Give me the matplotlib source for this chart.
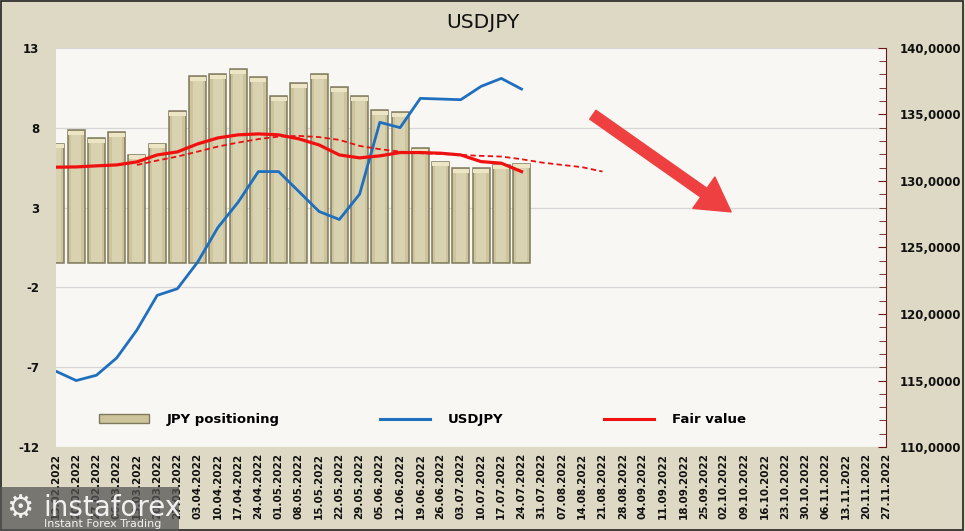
import matplotlib.pyplot as plt
from matplotlib.patches import FancyArrowPatch, Rectangle
from matplotlib.lines import Line2D
from matplotlib.ticker import FixedLocator, MultipleLocator, FuncFormatter
import numpy as np

plt.rcParams['axes.unicode_minus'] = False

# weekly date labels on the category axis
dates = ['13.02.2022', '20.02.2022', '27.02.2022', '06.03.2022', '13.03.2022', '20.03.2022',
         '27.03.2022', '03.04.2022', '10.04.2022', '17.04.2022', '24.04.2022', '01.05.2022',
         '08.05.2022', '15.05.2022', '22.05.2022', '29.05.2022', '05.06.2022', '12.06.2022',
         '19.06.2022', '26.06.2022', '03.07.2022', '10.07.2022', '17.07.2022', '24.07.2022',
         '31.07.2022', '07.08.2022', '14.08.2022', '21.08.2022', '28.08.2022', '04.09.2022',
         '11.09.2022', '18.09.2022', '25.09.2022', '02.10.2022', '09.10.2022', '16.10.2022',
         '23.10.2022', '30.10.2022', '06.11.2022', '13.11.2022', '20.11.2022', '27.11.2022']

# JPY net positioning (left axis)
positioning = [7.0, 7.83, 7.33, 7.71, 6.31, 7.0, 9.04, 11.25, 11.35, 11.67, 11.17, 9.96,
               10.79, 11.35, 10.52, 9.96, 9.12, 8.96, 6.71, 5.87, 5.48, 5.48, 5.69, 5.75]
bar_base = -0.5

# USDJPY (right axis)
usdjpy = [115.7, 115.0, 115.4, 116.7, 118.8, 121.4, 121.9, 123.9, 126.5, 128.4, 130.7, 130.7,
          129.2, 127.7, 127.1, 129.0, 134.4, 134.0, 136.2, 136.15, 136.1, 137.1, 137.7, 136.9]

# fair value (right axis)
fair_value = [131.03, 131.05, 131.13, 131.2, 131.43, 131.95, 132.18, 132.78, 133.23, 133.46,
              133.53, 133.46, 133.16, 132.7, 131.95, 131.73, 131.88, 132.13, 132.13, 132.08,
              131.95, 131.45, 131.33, 130.7]

# fair value trend (dashed), starts at week index 4
trend_start = 4
fair_trend = [131.2, 131.53, 131.83, 132.2, 132.58, 132.88, 133.14, 133.33, 133.38, 133.29,
              133.08, 132.63, 132.38, 132.2, 132.08, 132.03, 131.95, 131.88, 131.83, 131.63,
              131.38, 131.2, 131.03, 130.7]

bg = '#ddd9c4'
plot_bg = '#f8f7f3'

fig = plt.figure(figsize=(9.65, 5.31), dpi=100, facecolor=bg)
ax = fig.add_axes([0.058, 0.158, 0.860, 0.752])
ax.set_facecolor(plot_bg)
ax2 = ax.twinx()

x = np.arange(len(positioning))

# bars with a simple bevel look
ax.bar(x, np.array(positioning) - bar_base, bottom=bar_base, width=0.84,
       color='#cdc49c', edgecolor='#7f795c', linewidth=1.1, zorder=2)
ax.bar(x, np.array(positioning) - bar_base - 0.25, bottom=bar_base + 0.1, width=0.5,
       color='#d9d2b0', linewidth=0, zorder=2)
ax.bar(x, [0.25] * len(x), bottom=np.array(positioning) - 0.3, width=0.8,
       color='#ece6c4', linewidth=0, zorder=2)

ax.set_xlim(0, len(dates) - 1)
ax.set_ylim(-12, 13)
ax.yaxis.set_major_locator(FixedLocator([-12, -7, -2, 3, 8, 13]))
ax.grid(axis='y', color='#d6d6d6', linewidth=0.9, zorder=0)
ax.set_axisbelow(True)
ax.set_xticks(np.arange(len(dates)))
ax.set_xticklabels(dates, rotation=90, fontsize=7.5, fontweight='bold', color='#111111')
ax.tick_params(axis='x', length=0, pad=4)
ax.tick_params(axis='y', length=0, pad=12, labelsize=8.5, labelcolor='#111111')
for lab in ax.get_yticklabels():
    lab.set_fontweight('bold')
for s in ax.spines.values():
    s.set_visible(False)

# lines on the secondary axis
ax2.plot(x, usdjpy, color='#1f6fbf', linewidth=2.0, zorder=4)
ax2.plot(x, fair_value, color='#f01010', linewidth=2.3, zorder=5)
ax2.plot(np.arange(trend_start, trend_start + len(fair_trend)), fair_trend,
         color='#e81010', linewidth=1.3, linestyle=(0, (3, 1.8)), zorder=5)
ax2.set_ylim(110, 140)
ax2.yaxis.set_major_locator(MultipleLocator(5))
ax2.yaxis.set_minor_locator(MultipleLocator(1))
ax2.yaxis.set_major_formatter(FuncFormatter(lambda v, p: f'{v:.4f}'.replace('.', ',')))
ax2.tick_params(axis='y', which='both', direction='in', color='#6b1a1a', labelsize=8.5,
                labelcolor='#111111', pad=10)
ax2.tick_params(axis='y', which='major', length=6)
ax2.tick_params(axis='y', which='minor', length=5)
for lab in ax2.get_yticklabels():
    lab.set_fontweight('bold')
for name, s in ax2.spines.items():
    s.set_visible(name == 'right')
ax2.spines['right'].set_color('#6b1a1a')

# legend
handles = [Rectangle((0, 0), 1, 1, facecolor='#cdc49c', edgecolor='#7f795c'),
           Line2D([], [], color='#1f6fbf', linewidth=2.2),
           Line2D([], [], color='#f01010', linewidth=2.2)]
ax2.legend(handles, ['JPY positioning', 'USDJPY', 'Fair value'], loc='lower left',
           bbox_to_anchor=(0.037, 0.022), ncol=3, frameon=False, handlelength=3.8,
           handleheight=0.7, columnspacing=7.6, handletextpad=1.35,
           prop={'weight': 'bold', 'size': 9.5})

# title
fig.text(0.5, 0.957, 'USDJPY', ha='center', va='center', fontsize=14.5, color='#111111')

# direction arrow
arrow = FancyArrowPatch((0.612, 0.787), (0.76, 0.598), transform=fig.transFigure,
                        arrowstyle='simple,head_width=2.3,head_length=2.0,tail_width=0.65',
                        mutation_scale=12, color='#ee4040', zorder=6)
fig.patches.append(arrow)

# watermark
fig.patches.append(Rectangle((0, 0), 0.185, 0.083, transform=fig.transFigure,
                             facecolor='#555555', alpha=0.75, edgecolor='none', zorder=7))
fig.text(0.045, 0.043, 'instaforex', fontsize=20, color='white', alpha=0.9,
         ha='left', va='center', zorder=8)
fig.text(0.046, 0.013, 'Instant Forex Trading', fontsize=8, color='white', alpha=0.9,
         ha='left', va='center', zorder=8)
fig.text(0.02, 0.043, '\u2699', fontsize=22, color='white', alpha=0.9,
         ha='center', va='center', zorder=8)

# outer border
fig.patches.append(Rectangle((0.001, 0.002), 0.997, 0.996, transform=fig.transFigure,
                             facecolor='none', edgecolor='#222222', linewidth=1.2))

fig.savefig('out.png', dpi=100, facecolor=bg)
